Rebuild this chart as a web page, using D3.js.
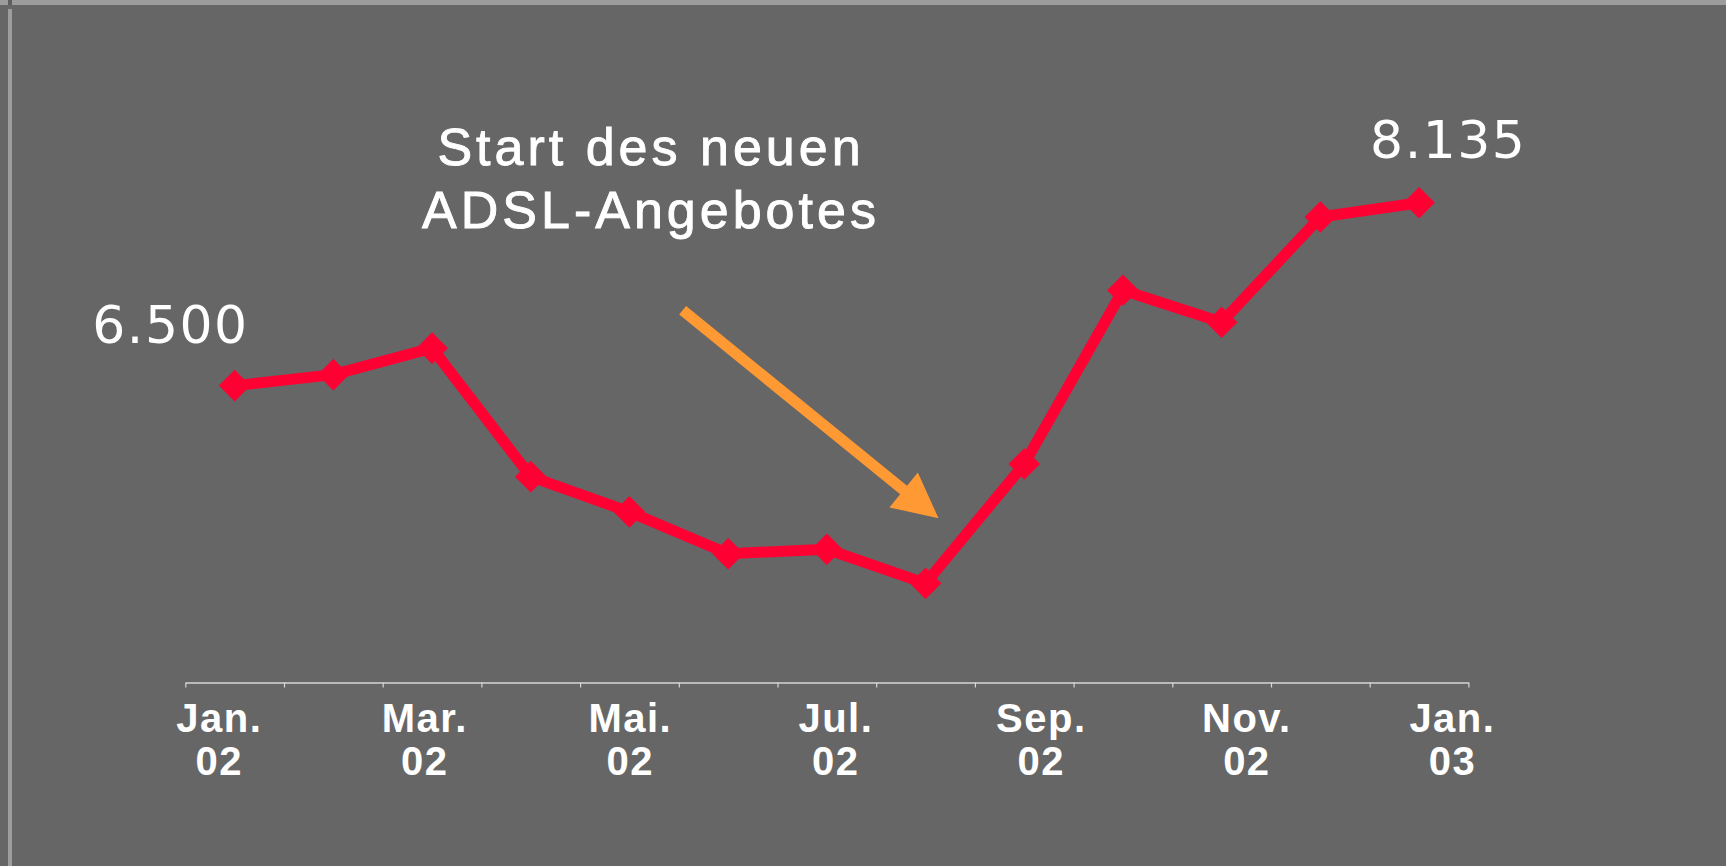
<!DOCTYPE html>
<html>
<head>
<meta charset="utf-8">
<script src="https://cdn.jsdelivr.net/npm/d3@7"></script>
<style>
    body { margin: 0; background: #666666; }
    svg { display: block; }
</style>
</head>
<body>
<div id="chart"></div>
<script>
const months = ["Jan02", "Feb02", "Mar02", "Apr02", "Mai02", "Jun02", "Jul02",
    "Aug02", "Sep02", "Okt02", "Nov02", "Dez02", "Jan03"];
const subscribers = [6500, 6598, 6835, 5686, 5371, 4997, 5037, 4732, 5799, 7353, 7067, 8007, 8135];

const labelMonths = ["Jan02", "Mar02", "Mai02", "Jul02", "Sep02", "Nov02", "Jan03"];
const labelLines = [["Jan.", "02"], ["Mar.", "02"], ["Mai.", "02"], ["Jul.", "02"],
    ["Sep.", "02"], ["Nov.", "02"], ["Jan.", "03"]];

const valueLabels = ["6.500", "8.135"];
const noteLines = ["Start des neuen", "ADSL-Angebotes"];

const width = 1726;
const height = 866;
const axisY = 682.5;

const data = months.map((m, i) => ({ month: m, value: subscribers[i] }));

const svg = d3.select("#chart")
    .append("svg")
    .attr("width", width)
    .attr("height", height);

// frame bits
svg.append("rect").attr("x", 0).attr("y", 0).attr("width", width).attr("height", 5).attr("fill", "#9c9c9c");
svg.append("rect").attr("x", 8).attr("y", 0).attr("width", 4).attr("height", 5).attr("fill", "#5e5e5e");
svg.append("rect").attr("x", 8).attr("y", 9).attr("width", 4).attr("height", height - 9).attr("fill", "#9d9d9d");

var x = d3.scaleBand()
    .domain(months)
    .range([185.3, 1468.4]);

var xEdges = d3.scaleLinear()
    .domain([0, months.length])
    .range(x.range());

// the category labels sit a bit wider apart than the bands
var xLabel = d3.scalePoint()
    .domain(labelMonths)
    .range([x.range()[0] + 34, x.range()[1] - 16]);

var y = d3.scaleLinear()
    .domain([3850, 9000])
    .range([682, 106]);

const cx = d => x(d.month) + x.bandwidth() / 2;

// axis with ticks on band edges
const axis = svg.append("g")
    .attr("transform", "translate(0," + axisY + ")")
    .call(d3.axisBottom(xEdges).tickValues(d3.range(months.length + 1)).tickSize(5).tickSizeOuter(0).tickFormat(""));
axis.select(".domain").attr("stroke", "#d6d6d6").attr("stroke-width", 1.5);
axis.selectAll(".tick line").attr("stroke", "#d6d6d6").attr("stroke-width", 1.2);

// month labels
const labels = svg.selectAll(".mlabel")
    .data(labelMonths)
    .enter()
    .append("text")
    .attr("class", "mlabel")
    .attr("text-anchor", "middle")
    .attr("font-family", "'Liberation Sans', Arial, sans-serif")
    .attr("font-weight", "bold")
    .attr("font-size", 40)
    .attr("letter-spacing", 1.5)
    .attr("fill", "#ffffff");
labels.append("tspan")
    .attr("x", m => xLabel(m))
    .attr("y", axisY + 49)
    .text((m, i) => labelLines[i][0]);
labels.append("tspan")
    .attr("x", m => xLabel(m))
    .attr("y", axisY + 92)
    .text((m, i) => labelLines[i][1]);

// line
const line = d3.line()
    .x(cx)
    .y(d => y(d.value));

svg.append("path")
    .datum(data)
    .attr("d", line)
    .attr("fill", "none")
    .attr("stroke", "#ff0033")
    .attr("stroke-width", 11)
    .attr("stroke-linejoin", "round");

svg.selectAll(".marker")
    .data(data)
    .enter()
    .append("path")
    .attr("class", "marker")
    .attr("d", d3.symbol().type(d3.symbolSquare).size(500))
    .attr("transform", d => "translate(" + cx(d) + "," + y(d.value) + ") rotate(45)")
    .attr("fill", "#ff0033");

// first and last value
const first = data[0];
const last = data[data.length - 1];
const valueFont = "'DejaVu Sans', Verdana, sans-serif";

svg.append("text")
    .attr("x", cx(first) + 14)
    .attr("y", y(first.value) - 43)
    .attr("text-anchor", "end")
    .attr("font-family", valueFont)
    .attr("font-size", 52)
    .attr("letter-spacing", 1.5)
    .attr("fill", "#ffffff")
    .text(valueLabels[0]);

svg.append("text")
    .attr("x", cx(last) - 49)
    .attr("y", y(last.value) - 45)
    .attr("text-anchor", "start")
    .attr("font-family", valueFont)
    .attr("font-size", 52)
    .attr("letter-spacing", 1.5)
    .attr("fill", "#ffffff")
    .text(valueLabels[1]);

// annotation
svg.selectAll(".note")
    .data(noteLines)
    .enter()
    .append("text")
    .attr("class", "note")
    .attr("x", 651)
    .attr("y", (t, i) => 165 + i * 63)
    .attr("text-anchor", "middle")
    .attr("font-family", "'Liberation Sans', Arial, sans-serif")
    .attr("font-size", 52)
    .attr("letter-spacing", 4)
    .attr("fill", "#ffffff")
    .attr("stroke", "#ffffff")
    .attr("stroke-width", 0.9)
    .text(t => t);

// arrow pointing at the August low
const aug = data[7];
const tip = [cx(aug) + 13, y(aug.value) - 65];
const start = [cx(data[5]) - 45.5, tip[1] - 208];
const len = Math.hypot(tip[0] - start[0], tip[1] - start[1]);
const ux = (tip[0] - start[0]) / len, uy = (tip[1] - start[1]) / len;
const headLen = 45, headHalf = 22.5;
const base = [tip[0] - ux * headLen, tip[1] - uy * headLen];

svg.append("line")
    .attr("x1", start[0]).attr("y1", start[1])
    .attr("x2", base[0] + ux * 2).attr("y2", base[1] + uy * 2)
    .attr("stroke", "#ff9933")
    .attr("stroke-width", 11);

svg.append("path")
    .attr("d", d3.line()([
        tip,
        [base[0] - uy * headHalf, base[1] + ux * headHalf],
        [base[0] + uy * headHalf, base[1] - ux * headHalf]
    ]) + "Z")
    .attr("fill", "#ff9933");
</script>
</body>
</html>
